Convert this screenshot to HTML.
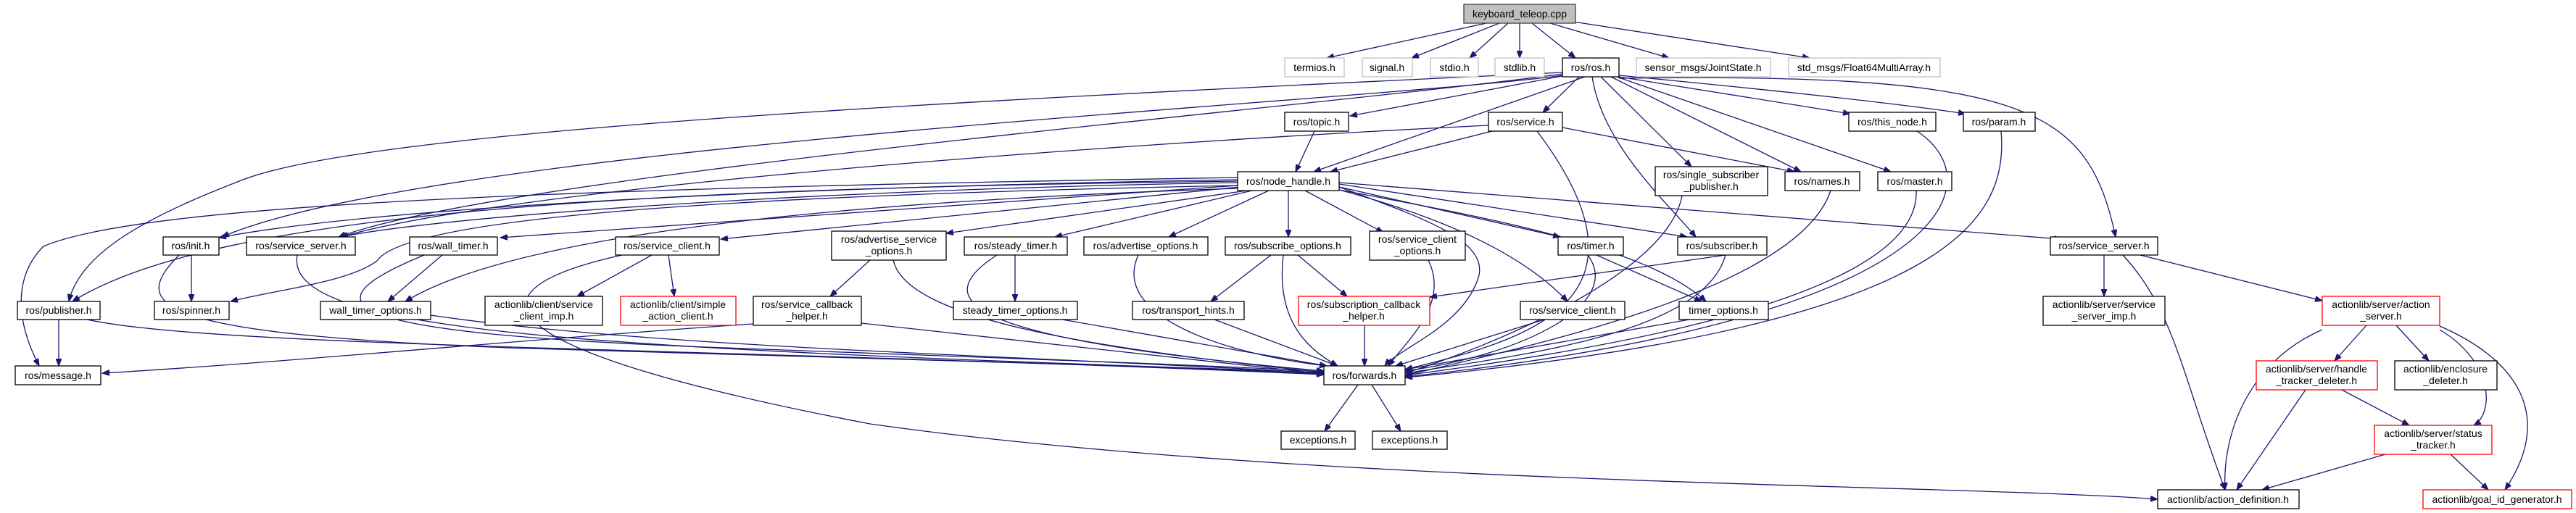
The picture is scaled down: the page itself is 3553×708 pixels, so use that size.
<!DOCTYPE html>
<html><head><meta charset="utf-8"><style>
html,body{margin:0;padding:0;background:#fff;width:3553px;height:708px;overflow:hidden}
svg text{font-family:"Liberation Sans","DejaVu Sans",sans-serif;font-size:14px;fill:#000;text-anchor:middle}
.e{fill:none;stroke:#191970;stroke-width:1.3;marker-end:url(#a)}
.n{fill:#fff;stroke:#000;stroke-width:1.3}
.g{fill:#fff;stroke:#bfbfbf;stroke-width:1.3}
.r{fill:#fff;stroke:#ff0000;stroke-width:1.3}
</style></head><body>
<svg width="3553" height="708" viewBox="0 0 3553 708" xmlns="http://www.w3.org/2000/svg">
<defs><marker id="a" markerUnits="userSpaceOnUse" markerWidth="11" markerHeight="8" refX="10" refY="4" orient="auto"><path d="M0,0 L10,4 L0,8 z" fill="#191970" stroke="#191970"/></marker></defs>
<g>
<path class="e" d="M2050 32 L1830 80"/>
<path class="e" d="M2068 32 L1947 80"/>
<path class="e" d="M2080 32 L2027 80"/>
<path class="e" d="M2096 32 L2096 80"/>
<path class="e" d="M2113 32 L2173 80"/>
<path class="e" d="M2138 32 L2302 80"/>
<path class="e" d="M2170 30 L2496 80"/>
<path class="e" d="M2160 104 L1862 160"/>
<path class="e" d="M2178 106 L2128 155"/>
<path class="e" d="M2186 106 L1812 237"/>
<path class="e" d="M2208 106 L2333 230"/>
<path class="e" d="M2196 106 C2210 200,2300 280,2339 327"/>
<path class="e" d="M2222 106 L2484 237"/>
<path class="e" d="M2230 106 L2608 237"/>
<path class="e" d="M2233 106 L2552 157"/>
<path class="e" d="M2233 104 C2400 120,2600 140,2711 157"/>
<path class="e" d="M2233 108 C2800 100,2880 150,2918 327"/>
<path class="e" d="M2155 104 C1900 140,600 200,306 327"/>
<path class="e" d="M2155 102 C1800 150,700 240,467 327"/>
<path class="e" d="M2155 100 C1300 140,500 180,330 250 C200 300,110 350,95 416"/>
<path class="e" d="M1813 181 L1787 237"/>
<path class="e" d="M2058 181 L1835 237"/>
<path class="e" d="M2053 173 C1500 200,700 260,470 327"/>
<path class="e" d="M2155 176 L2475 237"/>
<path class="e" d="M2120 181 C2300 420,2100 470,1938 510"/>
<path class="e" d="M1707 245 C800 260,200 280,60 340 C20 380,20 440,54 505"/>
<path class="e" d="M1707 250 C900 260,300 290,100 416"/>
<path class="e" d="M1707 248 C1000 260,500 290,302 328"/>
<path class="e" d="M1707 252 C1100 262,600 300,470 327"/>
<path class="e" d="M1707 256 C1000 270,560 300,520 360 C480 390,380 400,318 416"/>
<path class="e" d="M1707 256 L690 328"/>
<path class="e" d="M1710 258 L994 330"/>
<path class="e" d="M1720 263 L1305 322"/>
<path class="e" d="M1727 263 L1455 327"/>
<path class="e" d="M1750 263 L1612 327"/>
<path class="e" d="M1777 263 L1777 327"/>
<path class="e" d="M1800 263 L1908 321"/>
<path class="e" d="M1847 258 L2152 327"/>
<path class="e" d="M1847 254 L2327 327"/>
<path class="e" d="M1847 252 L2843 330"/>
<path class="e" d="M1847 258 C1960 300,2050 330,2040 380 C2020 450,1930 480,1910 505"/>
<path class="e" d="M1847 262 C1990 300,2100 350,2162 416"/>
<path class="e" d="M1847 262 C2050 300,2270 340,2353 416"/>
<path class="e" d="M1707 260 C1100 280,700 330,559 416"/>
<path class="e" d="M2320 270 C2300 380,2050 480,1938 515"/>
<path class="e" d="M2525 263 C2480 400,2100 480,1938 518"/>
<path class="e" d="M2643 263 C2650 420,2150 490,1938 518"/>
<path class="e" d="M2644 181 C2750 250,2700 440,1938 520"/>
<path class="e" d="M2760 181 C2770 300,2700 450,1938 521"/>
<path class="e" d="M2380 352 C2350 460,2100 490,1938 515"/>
<path class="e" d="M2380 352 L1972 410"/>
<path class="e" d="M2330 441 L1938 510"/>
<path class="e" d="M2130 441 L1925 505"/>
<path class="e" d="M2202 352 L2347 416"/>
<path class="e" d="M2190 352 C2240 420,2100 490,1938 512"/>
<path class="e" d="M1970 359 C2000 420,1940 470,1915 505"/>
<path class="e" d="M1753 352 L1670 416"/>
<path class="e" d="M1790 352 L1858 409"/>
<path class="e" d="M1770 352 C1760 440,1800 480,1845 505"/>
<path class="e" d="M1675 441 L1845 505"/>
<path class="e" d="M1882 449 L1882 505"/>
<path class="e" d="M1570 352 C1530 440,1700 490,1830 505"/>
<path class="e" d="M1465 441 L1830 505"/>
<path class="e" d="M1400 352 L1400 416"/>
<path class="e" d="M1375 352 C1270 420,1350 470,1826 512"/>
<path class="e" d="M1200 359 L1145 409"/>
<path class="e" d="M1232 359 C1250 440,1500 480,1826 514"/>
<path class="e" d="M1039 447 C700 470,400 500,141 515"/>
<path class="e" d="M1188 446 L1826 516"/>
<path class="e" d="M899 352 L796 409"/>
<path class="e" d="M922 352 L930 409"/>
<path class="e" d="M858 352 C640 400,650 480,1200 585 C1800 670,2700 668,2976 689"/>
<path class="e" d="M610 352 L535 416"/>
<path class="e" d="M594 435 C900 480,1400 490,1826 515"/>
<path class="e" d="M585 352 C420 420,450 460,1000 480 C1400 495,1700 505,1826 513"/>
<path class="e" d="M410 352 C390 460,800 480,1826 514"/>
<path class="e" d="M264 352 L264 416"/>
<path class="e" d="M247 352 C180 420,200 460,700 480 C1200 495,1600 505,1826 516"/>
<path class="e" d="M81 441 L81 505"/>
<path class="e" d="M120 441 C300 480,1000 480,1826 517"/>
<path class="e" d="M1873 531 L1827 595"/>
<path class="e" d="M1892 531 L1932 595"/>
<path class="e" d="M2902 352 L2902 409"/>
<path class="e" d="M2928 352 C3000 430,3010 520,3069 676"/>
<path class="e" d="M2952 352 L3203 415"/>
<path class="e" d="M3264 449 L3220 498"/>
<path class="e" d="M3305 449 L3350 498"/>
<path class="e" d="M3365 455 C3440 500,3440 570,3412 587"/>
<path class="e" d="M3365 450 C3480 500,3520 580,3455 676"/>
<path class="e" d="M3203 455 C3100 500,3065 600,3069 676"/>
<path class="e" d="M3180 538 L3085 676"/>
<path class="e" d="M3230 538 L3323 587"/>
<path class="e" d="M3290 627 L3120 676"/>
<path class="e" d="M3380 627 L3432 676"/>
</g>
<g>
<rect x="2019" y="6" width="154" height="26" fill="#bfbfbf" stroke="#404040" stroke-width="1.3"/><text x="2096" y="24">keyboard_teleop.cpp</text>
<rect class="g" x="1772" y="80" width="82" height="26"/><text x="1813" y="98">termios.h</text>
<rect class="g" x="1879" y="80" width="69" height="26"/><text x="1913" y="98">signal.h</text>
<rect class="g" x="1973" y="80" width="66" height="26"/><text x="2006" y="98">stdio.h</text>
<rect class="g" x="2062" y="80" width="68" height="26"/><text x="2096" y="98">stdlib.h</text>
<rect class="n" x="2155" y="80" width="78" height="26"/><text x="2194" y="98">ros/ros.h</text>
<rect class="g" x="2257" y="80" width="185" height="26"/><text x="2349" y="98">sensor_msgs/JointState.h</text>
<rect class="g" x="2467" y="80" width="209" height="26"/><text x="2571" y="98">std_msgs/Float64MultiArray.h</text>
<rect class="n" x="1772" y="155" width="88" height="26"/><text x="1816" y="173">ros/topic.h</text>
<rect class="n" x="2053" y="155" width="102" height="26"/><text x="2104" y="173">ros/service.h</text>
<rect class="n" x="2550" y="155" width="120" height="26"/><text x="2610" y="173">ros/this_node.h</text>
<rect class="n" x="2708" y="155" width="99" height="26"/><text x="2757" y="173">ros/param.h</text>
<rect class="n" x="1707" y="237" width="140" height="26"/><text x="1777" y="255">ros/node_handle.h</text>
<rect class="n" x="2283" y="230" width="155" height="40"/><text x="2360" y="246">ros/single_subscriber</text><text x="2360" y="262">_publisher.h</text>
<rect class="n" x="2462" y="237" width="103" height="26"/><text x="2513" y="255">ros/names.h</text>
<rect class="n" x="2590" y="237" width="102" height="26"/><text x="2641" y="255">ros/master.h</text>
<rect class="n" x="225" y="327" width="77" height="25"/><text x="263" y="344">ros/init.h</text>
<rect class="n" x="340" y="327" width="150" height="25"/><text x="415" y="344">ros/service_server.h</text>
<rect class="n" x="565" y="327" width="121" height="25"/><text x="625" y="344">ros/wall_timer.h</text>
<rect class="n" x="849" y="327" width="143" height="25"/><text x="920" y="344">ros/service_client.h</text>
<rect class="n" x="1147" y="319" width="158" height="40"/><text x="1226" y="335">ros/advertise_service</text><text x="1226" y="351">_options.h</text>
<rect class="n" x="1330" y="327" width="142" height="25"/><text x="1401" y="344">ros/steady_timer.h</text>
<rect class="n" x="1495" y="327" width="171" height="25"/><text x="1580" y="344">ros/advertise_options.h</text>
<rect class="n" x="1690" y="327" width="173" height="25"/><text x="1776" y="344">ros/subscribe_options.h</text>
<rect class="n" x="1889" y="319" width="132" height="40"/><text x="1955" y="335">ros/service_client</text><text x="1955" y="351">_options.h</text>
<rect class="n" x="2149" y="327" width="90" height="25"/><text x="2194" y="344">ros/timer.h</text>
<rect class="n" x="2314" y="327" width="123" height="25"/><text x="2375" y="344">ros/subscriber.h</text>
<rect class="n" x="2828" y="327" width="148" height="25"/><text x="2902" y="344">ros/service_server.h</text>
<rect class="n" x="24" y="416" width="114" height="25"/><text x="81" y="433">ros/publisher.h</text>
<rect class="n" x="213" y="416" width="103" height="25"/><text x="264" y="433">ros/spinner.h</text>
<rect class="n" x="442" y="416" width="152" height="25"/><text x="518" y="433">wall_timer_options.h</text>
<rect class="n" x="669" y="409" width="162" height="40"/><text x="750" y="425">actionlib/client/service</text><text x="750" y="441">_client_imp.h</text>
<rect class="r" x="856" y="409" width="159" height="40"/><text x="935" y="425">actionlib/client/simple</text><text x="935" y="441">_action_client.h</text>
<rect class="n" x="1039" y="409" width="149" height="40"/><text x="1113" y="425">ros/service_callback</text><text x="1113" y="441">_helper.h</text>
<rect class="n" x="1315" y="416" width="171" height="25"/><text x="1400" y="433">steady_timer_options.h</text>
<rect class="n" x="1562" y="416" width="154" height="25"/><text x="1639" y="433">ros/transport_hints.h</text>
<rect class="r" x="1791" y="409" width="181" height="40"/><text x="1881" y="425">ros/subscription_callback</text><text x="1881" y="441">_helper.h</text>
<rect class="n" x="2097" y="416" width="144" height="25"/><text x="2169" y="433">ros/service_client.h</text>
<rect class="n" x="2316" y="416" width="123" height="25"/><text x="2377" y="433">timer_options.h</text>
<rect class="n" x="2818" y="409" width="168" height="40"/><text x="2902" y="425">actionlib/server/service</text><text x="2902" y="441">_server_imp.h</text>
<rect class="r" x="3203" y="409" width="162" height="40"/><text x="3284" y="425">actionlib/server/action</text><text x="3284" y="441">_server.h</text>
<rect class="n" x="21" y="505" width="118" height="26"/><text x="80" y="523">ros/message.h</text>
<rect class="n" x="1826" y="505" width="112" height="26"/><text x="1882" y="523">ros/forwards.h</text>
<rect class="r" x="3112" y="498" width="167" height="40"/><text x="3195" y="514">actionlib/server/handle</text><text x="3195" y="530">_tracker_deleter.h</text>
<rect class="n" x="3303" y="498" width="141" height="40"/><text x="3373" y="514">actionlib/enclosure</text><text x="3373" y="530">_deleter.h</text>
<rect class="n" x="1767" y="595" width="102" height="25"/><text x="1818" y="612">exceptions.h</text>
<rect class="n" x="1893" y="595" width="103" height="25"/><text x="1944" y="612">exceptions.h</text>
<rect class="r" x="3275" y="587" width="162" height="40"/><text x="3356" y="603">actionlib/server/status</text><text x="3356" y="619">_tracker.h</text>
<rect class="n" x="2976" y="676" width="195" height="26"/><text x="3073" y="694">actionlib/action_definition.h</text>
<rect class="r" x="3342" y="676" width="205" height="26"/><text x="3444" y="694">actionlib/goal_id_generator.h</text>
</g>
</svg>
</body></html>
